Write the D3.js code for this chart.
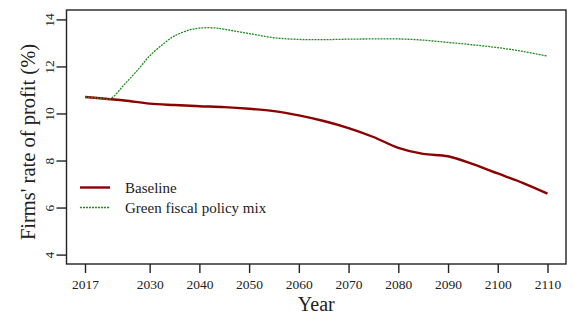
<!DOCTYPE html>
<html>
<head>
<meta charset="utf-8">
<script src="https://cdn.jsdelivr.net/npm/d3@7"></script>
<style>
  body { margin: 0; background: #fff; }
  text { font-family: 'Liberation Serif', 'DejaVu Serif', serif; fill: #222; }
</style>
</head>
<body>
<div id="chart"></div>
<script>
const baselineYears = [2017, 2020, 2025, 2030, 2035, 2040, 2045, 2050, 2055, 2060, 2065, 2070, 2075, 2080, 2085, 2090, 2095, 2100, 2105, 2110]
const baselineValues = [10.7, 10.65, 10.55, 10.42, 10.36, 10.31, 10.27, 10.2, 10.1, 9.92, 9.68, 9.38, 9.0, 8.54, 8.28, 8.18, 7.85, 7.45, 7.05, 6.59]

const greenYears = [2017, 2020, 2022, 2025, 2028, 2030, 2033, 2035, 2038, 2040, 2043, 2045, 2050, 2055, 2060, 2065, 2070, 2075, 2080, 2085, 2090, 2095, 2100, 2105, 2110]
const greenValues = [10.7, 10.65, 10.62, 11.25, 11.95, 12.45, 13.0, 13.3, 13.55, 13.63, 13.64, 13.58, 13.4, 13.22, 13.15, 13.14, 13.16, 13.17, 13.17, 13.12, 13.02, 12.92, 12.8, 12.64, 12.44]

const xTicks = [2017, 2030, 2040, 2050, 2060, 2070, 2080, 2090, 2100, 2110]
const yTicks = [4, 6, 8, 10, 12, 14]
const seriesNames = ['Baseline', 'Green fiscal policy mix']

const width = 574
const height = 316
const margin = { left: 66.5, right: 8, top: 10, bottom: 52 }

const svg = d3.select('#chart')
  .append('svg')
  .attr('width', width)
  .attr('height', height)

// R style axes: 4% padding around data range
const x = d3.scaleLinear()
  .domain([2017 - 93 * 0.04, 2110 + 93 * 0.04])
  .range([margin.left, width - margin.right])

const y = d3.scaleLinear()
  .domain([4 - 0.4, 14 + 0.4])
  .range([height - margin.bottom, margin.top])

const line = d3.line()
  .x(d => x(d[0]))
  .y(d => y(d[1]))
  .curve(d3.curveCatmullRom.alpha(0.5))

const baseline = baselineYears.map((yr, i) => [yr, baselineValues[i]])
const green = greenYears.map((yr, i) => [yr, greenValues[i]])

svg.append('path')
  .datum(baseline)
  .attr('d', line)
  .attr('fill', 'none')
  .attr('stroke', '#8b0000')
  .attr('stroke-width', 2.4)

svg.append('path')
  .datum(green)
  .attr('d', line)
  .attr('fill', 'none')
  .attr('stroke', '#228b22')
  .attr('stroke-width', 1.3)
  .attr('stroke-dasharray', '2 1')

// box
svg.append('rect')
  .attr('x', x.range()[0])
  .attr('y', y.range()[1])
  .attr('width', x.range()[1] - x.range()[0])
  .attr('height', y.range()[0] - y.range()[1])
  .attr('fill', 'none')
  .attr('stroke', '#222')
  .attr('stroke-width', 1.4)

// x axis
const xAxis = svg.append('g')
  .attr('transform', `translate(0, ${y.range()[0]})`)
  .call(d3.axisBottom(x).tickValues(xTicks).tickFormat(d3.format('d')).tickSize(9).tickPadding(6))
xAxis.select('.domain').remove()
xAxis.selectAll('line').attr('stroke', '#222').attr('stroke-width', 1.4)
xAxis.selectAll('text')
  .style('font-family', "'Liberation Serif', serif")
  .style('font-size', '13.5px')
  .attr('fill', '#222')

// y axis, labels rotated like R's default las = 0
const yAxis = svg.append('g')
  .attr('transform', `translate(${x.range()[0]}, 0)`)
  .call(d3.axisLeft(y).tickValues(yTicks).tickSize(10))
yAxis.select('.domain').remove()
yAxis.selectAll('line').attr('stroke', '#222').attr('stroke-width', 1.4)
yAxis.selectAll('text')
  .attr('x', null)
  .attr('dy', null)
  .attr('transform', 'translate(-13, 0) rotate(-90)')
  .attr('text-anchor', 'middle')
  .style('font-family', "'Liberation Serif', serif")
  .style('font-size', '13.5px')
  .attr('fill', '#222')

// axis titles
svg.append('text')
  .attr('x', (x.range()[0] + x.range()[1]) / 2)
  .attr('y', 311)
  .attr('text-anchor', 'middle')
  .style('font-size', '20px')
  .text('Year')

svg.append('text')
  .attr('transform', `translate(35, ${(y.range()[0] + y.range()[1]) / 2 + 5}) rotate(-90)`)
  .attr('text-anchor', 'middle')
  .style('font-size', '20.5px')
  .text("Firms' rate of profit (%)")

// legend
const legend = svg.append('g')
  .selectAll('g')
  .data(seriesNames)
  .enter()
  .append('g')
  .attr('transform', (d, i) => `translate(80, ${187.5 + i * 20})`)

legend.append('line')
  .attr('x1', 0)
  .attr('x2', 30)
  .attr('stroke', (d, i) => i === 0 ? '#8b0000' : '#228b22')
  .attr('stroke-width', (d, i) => i === 0 ? 2.4 : 1.3)
  .attr('stroke-dasharray', (d, i) => i === 0 ? null : '2 1')

legend.append('text')
  .attr('x', 45)
  .attr('dy', '0.35em')
  .style('font-size', '15px')
  .text(d => d)
</script>
</body>
</html>
